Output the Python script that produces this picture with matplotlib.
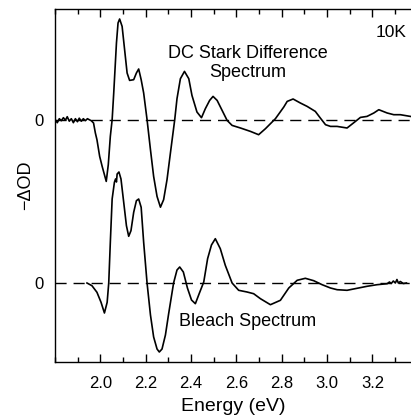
import matplotlib.pyplot as plt
from matplotlib.ticker import MultipleLocator

plt.rcParams['font.family'] = ['Liberation Sans', 'DejaVu Sans']

# DC Stark difference spectrum (energy in eV, -dOD in arbitrary units)
stark_e = [1.801, 1.810, 1.819, 1.828, 1.837, 1.846, 1.854, 1.863, 1.872, 1.881,
           1.890, 1.899, 1.907, 1.916, 1.925, 1.934, 1.943, 1.951, 1.960,
           1.970, 1.978, 1.985, 1.997, 2.008, 2.018, 2.026, 2.035, 2.044, 2.052,
           2.059, 2.071, 2.078, 2.085, 2.096, 2.107, 2.118, 2.129, 2.147, 2.159,
           2.169, 2.180, 2.191, 2.206, 2.221, 2.235, 2.250, 2.265, 2.279, 2.294,
           2.309, 2.328, 2.338, 2.353, 2.371, 2.390, 2.404, 2.426, 2.446, 2.463,
           2.482, 2.497, 2.515, 2.537, 2.559, 2.581, 2.618, 2.662, 2.698, 2.728,
           2.772, 2.809, 2.824, 2.850, 2.882, 2.912, 2.948, 2.970, 2.993, 3.015,
           3.044, 3.088, 3.125, 3.147, 3.176, 3.206, 3.228, 3.265, 3.294, 3.323,
           3.367]
stark_v = [0.0, -0.3, 0.1, -0.1, 0.2, -0.05, 0.3, -0.15, 0.1, -0.3,
           0.1, -0.2, 0.15, -0.15, 0.1, -0.1, 0.1, 0.0, -0.1,
           -0.33, -1.33, -2.0, -3.67, -4.67, -5.5, -6.17, -4.5, -1.67, 0.0,
           2.67, 7.67, 9.67, 10.07, 9.33, 7.0, 4.67, 3.93, 4.0, 4.67,
           5.07, 4.0, 2.67, 0.0, -3.0, -5.67, -7.67, -8.75, -8.0, -6.0,
           -3.33, 0.0, 2.1, 4.1, 4.83, 4.1, 2.43, 0.77, 0.2, 1.1,
           1.93, 2.33, 1.93, 0.93, -0.07, -0.57, -0.83, -1.17, -1.5, -0.9,
           0.1, 1.27, 1.83, 2.07, 1.67, 1.33, 0.83, 0.17, -0.5, -0.67,
           -0.67, -0.83, -0.17, 0.23, 0.33, 0.67, 1.0, 0.67, 0.5, 0.5,
           0.33]

# Bleach spectrum
bleach_e = [1.941, 1.963, 1.985, 2.003, 2.018, 2.030, 2.037, 2.044, 2.052, 2.062,
            2.067, 2.071, 2.074, 2.082, 2.091, 2.103, 2.115, 2.125, 2.135, 2.147,
            2.159, 2.169, 2.180, 2.191, 2.206, 2.221, 2.235, 2.250, 2.260, 2.272,
            2.287, 2.301, 2.323, 2.338, 2.350, 2.366, 2.384, 2.402, 2.419, 2.437,
            2.456, 2.473, 2.490, 2.507, 2.529, 2.551, 2.581, 2.610, 2.647, 2.676,
            2.706, 2.750, 2.794, 2.831, 2.868, 2.904, 2.941, 2.978, 3.015, 3.044,
            3.088, 3.132, 3.176, 3.220, 3.265, 3.275, 3.283, 3.292, 3.301, 3.308,
            3.314, 3.323, 3.336, 3.350]
bleach_v = [0.0, -0.27, -0.93, -1.93, -3.0, -1.93, 0.0, 4.07, 8.4, 10.07,
            10.4, 10.1, 10.9, 11.1, 10.4, 8.07, 5.73, 4.67, 5.23, 7.07,
            8.23, 8.4, 7.57, 4.07, 0.0, -3.2, -5.4, -6.6, -6.9, -6.6,
            -5.2, -3.1, 0.0, 1.3, 1.6, 1.1, -0.5, -1.7, -2.07, -1.0,
            0.1, 2.43, 3.8, 4.43, 3.43, 1.77, 0.0, -0.73, -0.9, -1.07,
            -1.57, -2.17, -1.73, -0.5, 0.27, 0.47, 0.23, -0.17, -0.5, -0.67,
            -0.73, -0.53, -0.33, -0.17, -0.07, 0.1, -0.05, 0.2, 0.0, 0.35,
            0.0, 0.15, -0.05, 0.0]

stark_offset = 16.33
bleach_offset = 0.0

fig = plt.figure(figsize=(4.11, 4.18), dpi=100)
ax = fig.add_axes([55 / 411, 56 / 418, 356 / 411, 353 / 418])

ax.plot(stark_e, [v + stark_offset for v in stark_v], color='black', lw=1.2,
        solid_joinstyle='round')
ax.plot(bleach_e, [v + bleach_offset for v in bleach_v], color='black', lw=1.2,
        solid_joinstyle='round')
ax.axhline(stark_offset, color='black', lw=1.0, dashes=(8, 5))
ax.axhline(bleach_offset, color='black', lw=1.0, dashes=(8, 5))

ax.set_xlim(1.80, 3.37)
ax.set_ylim(-7.9, 27.4)

ax.set_xticks([2.0, 2.2, 2.4, 2.6, 2.8, 3.0, 3.2])
ax.xaxis.set_minor_locator(MultipleLocator(0.1))
ax.tick_params(axis='x', which='major', direction='in', length=6, width=1,
               top=True, labelsize=12, pad=10)
ax.tick_params(axis='x', which='minor', direction='in', length=3.5, width=1, top=True)
ax.set_yticks([bleach_offset, stark_offset])
ax.set_yticklabels(['0', '0'])
ax.tick_params(axis='y', length=0, labelsize=12, pad=8)

ax.spines['right'].set_visible(False)
for s in ['left', 'bottom', 'top']:
    ax.spines[s].set_linewidth(1.0)

ax.set_xlabel('Energy (eV)', fontsize=14, labelpad=5)
ax.set_ylabel('\u2212\u0394OD', fontsize=13, labelpad=0.5)

ax.text(3.28, 25.0, '10K', fontsize=12.5, ha='center', va='center')
ax.text(2.65, 22.0, 'DC Stark Difference\nSpectrum', fontsize=13, ha='center',
        va='center', linespacing=1.2)
ax.text(2.65, -3.9, 'Bleach Spectrum', fontsize=13, ha='center', va='center')

fig.savefig('out.png', dpi=100)
